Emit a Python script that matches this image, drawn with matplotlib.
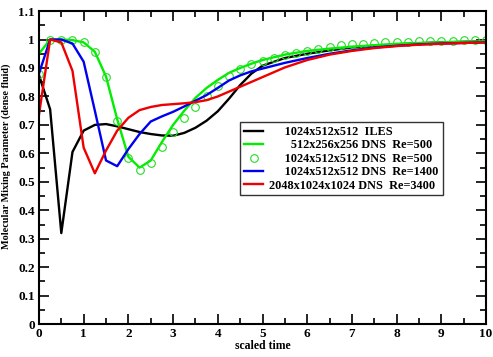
# Molecular mixing parameter vs scaled time
import numpy as np
import matplotlib.pyplot as plt
from matplotlib.ticker import MultipleLocator, FormatStrFormatter

plt.rcParams['font.family'] = 'Liberation Serif'
plt.rcParams['font.weight'] = 'bold'

# ILES 1024x512x512
t_iles = [0, 0.25, 0.5, 0.75, 1.0, 1.25, 1.5, 1.75, 2.0, 2.25, 2.5, 2.75, 3.0, 3.25, 3.5,
          3.75, 4.0, 4.25, 4.5, 4.75, 5.0, 5.5, 6.0, 6.5, 7.0, 7.5, 8.0, 8.5, 9.0, 9.5, 10]
th_iles = [0.875, 0.755, 0.32, 0.605, 0.68, 0.70, 0.703, 0.695, 0.685, 0.675, 0.668, 0.663, 0.662, 0.672, 0.69,
           0.715, 0.748, 0.792, 0.84, 0.88, 0.908, 0.935, 0.95, 0.962, 0.972, 0.978, 0.983, 0.987, 0.99, 0.992, 0.994]

# DNS 512x256x256 Re=500
t_dns500 = [0, 0.25, 0.5, 0.75, 1.0, 1.25, 1.5, 1.75, 2.0, 2.25, 2.5, 2.75, 3.0, 3.25, 3.5,
            3.75, 4.0, 4.25, 4.5, 4.75, 5.0, 5.5, 6.0, 6.5, 7.0, 7.5, 8.0, 8.5, 9.0, 9.5, 10]
th_dns500 = [0.95, 1.0, 1.0, 0.998, 0.99, 0.957, 0.87, 0.72, 0.588, 0.55, 0.575, 0.64, 0.70, 0.75, 0.795,
             0.83, 0.858, 0.883, 0.90, 0.915, 0.928, 0.947, 0.96, 0.968, 0.975, 0.98, 0.985, 0.988, 0.99, 0.992, 0.994]

# DNS 1024x512x512 Re=500 (circles, every 0.25)
t_circ = np.arange(0, 10.01, 0.25)
th_circ = [0.88, 1.0, 1.0, 1.0, 0.992, 0.957, 0.869, 0.715, 0.585, 0.541, 0.567, 0.623, 0.676, 0.723, 0.764,
           0.80, 0.837, 0.873, 0.898, 0.914, 0.925, 0.934, 0.944, 0.951, 0.96, 0.966, 0.974, 0.98, 0.984, 0.986,
           0.988, 0.99, 0.992, 0.993, 0.994, 0.995, 0.996, 0.996, 0.997, 0.997, 0.997]

# DNS 1024x512x512 Re=1400
t_dns1400 = [0, 0.25, 0.5, 0.75, 1.0, 1.25, 1.5, 1.75, 2.0, 2.25, 2.5, 2.75, 3.0, 3.25, 3.5,
             3.75, 4.0, 4.25, 4.5, 4.75, 5.0, 5.5, 6.0, 6.5, 7.0, 7.5, 8.0, 8.5, 9.0, 9.5, 10]
th_dns1400 = [0.88, 1.0, 1.0, 0.986, 0.922, 0.75, 0.575, 0.555, 0.615, 0.668, 0.712, 0.73, 0.746, 0.765, 0.785,
              0.805, 0.83, 0.856, 0.874, 0.888, 0.898, 0.918, 0.935, 0.95, 0.962, 0.972, 0.978, 0.983, 0.986, 0.988, 0.99]

# DNS 2048x1024x1024 Re=3400
t_dns3400 = [0, 0.25, 0.5, 0.75, 1.0, 1.25, 1.5, 1.75, 2.0, 2.25, 2.5, 2.75, 3.0, 3.25, 3.5,
             3.75, 4.0, 4.5, 5.0, 5.5, 6.0, 6.5, 7.0, 7.5, 8.0, 8.5, 9.0, 9.5, 10]
th_dns3400 = [0.735, 1.0, 0.99, 0.89, 0.62, 0.53, 0.61, 0.68, 0.725, 0.752, 0.763, 0.77, 0.773, 0.776, 0.78,
              0.787, 0.80, 0.834, 0.868, 0.902, 0.928, 0.947, 0.96, 0.97, 0.977, 0.982, 0.985, 0.988, 0.99]

labels = ['     1024x512x512  ILES',
          '       512x256x256 DNS  Re=500',
          '     1024x512x512 DNS  Re=500',
          '     1024x512x512 DNS  Re=1400',
          '2048x1024x1024 DNS  Re=3400']

fig = plt.figure(figsize=(4.93, 3.57), dpi=100)
ax = fig.add_axes([0.079, 0.092, 0.907, 0.877])

ax.plot(t_iles, th_iles, color='black', lw=1.7, label=labels[0])
ax.plot(t_dns500, th_dns500, color='#00ee00', lw=1.7, label=labels[1])
ax.plot(t_circ, th_circ, 'o', mfc='none', mec='#22dd22', ms=5.5, mew=0.8, label=labels[2])
ax.plot(t_dns1400, th_dns1400, color='#0000ee', lw=1.7, label=labels[3])
ax.plot(t_dns3400, th_dns3400, color='#ee0000', lw=1.7, label=labels[4])

ax.set_xlim(0, 10)
ax.set_ylim(0, 1.1)
ax.xaxis.set_major_locator(MultipleLocator(1))
ax.xaxis.set_minor_locator(MultipleLocator(0.5))
ax.yaxis.set_major_locator(MultipleLocator(0.1))
ax.yaxis.set_minor_locator(MultipleLocator(0.05))
ax.yaxis.set_major_formatter(FormatStrFormatter('%g'))
ax.tick_params(which='both', direction='in', top=True, right=True, labelsize=9.5, width=1.2)
ax.tick_params(which='major', length=7, pad=3)
ax.tick_params(which='minor', length=4)
for s in ax.spines.values():
    s.set_linewidth(1.5)

ax.set_xlabel('scaled time', fontsize=8.5, fontweight='bold', labelpad=0)
ax.set_ylabel('Molecular Mixing Parameter (dense fluid)', fontsize=7.4, fontweight='bold')
ax.yaxis.set_label_coords(-0.063, 0.537)

leg = ax.legend(loc='upper left', bbox_to_anchor=(0.45, 0.645), fontsize=8.8, frameon=True,
                fancybox=False, edgecolor='black', handlelength=1.6, borderpad=0.3,
                labelspacing=0.12, handletextpad=0.5, borderaxespad=0)
leg.get_frame().set_linewidth(1.0)

plt.savefig('out.png', dpi=100)
